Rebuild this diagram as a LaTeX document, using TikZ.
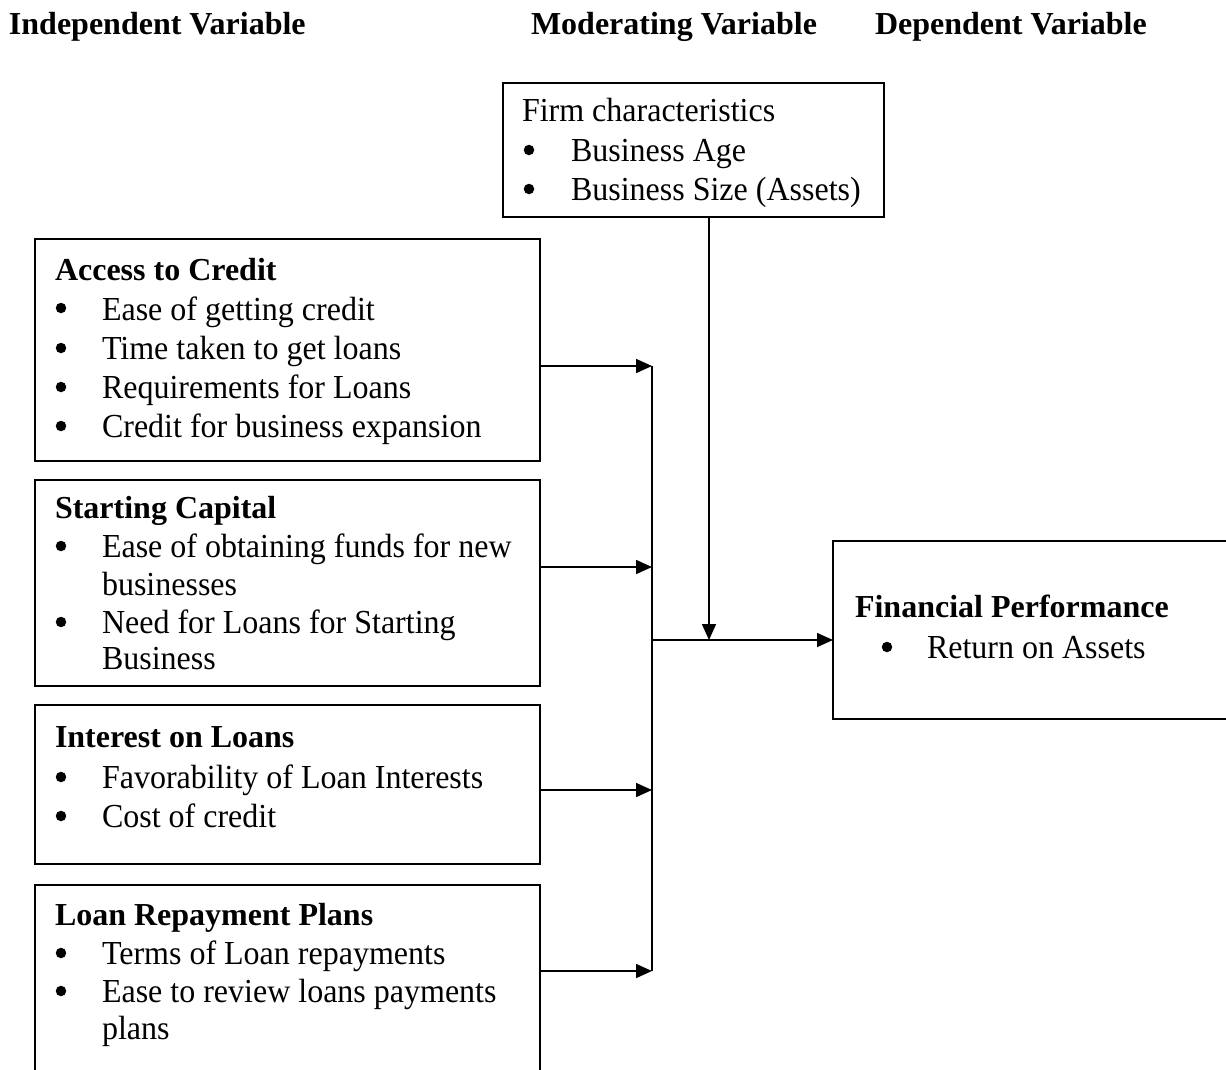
\documentclass[tikz,border=0pt]{standalone}
\usepackage{fontspec}
\setmainfont{Liberation Serif}
\usetikzlibrary{arrows.meta}
\newcommand\regtxt[1]{\scalebox{1}[1.05]{#1}}
\newcommand\boldtxt[1]{{\bfseries #1}}
\newcommand\headtxt[1]{{\bfseries #1}}
\begin{document}
\begin{tikzpicture}[x=1pt,y=-1pt,
  every node/.style={inner sep=0pt,outer sep=0pt,font=\fontsize{32}{39}\selectfont},
  boxnode/.style={draw,line width=1.6pt,rectangle,anchor=north west},
  ttl/.style={anchor=base west},
  itm/.style={anchor=base west},
  bul/.style={circle,fill=black,minimum size=10.5pt},
  conn/.style={line width=1.6pt},
  arr/.style={line width=1.6pt,-{Triangle[length=16pt,width=14pt]}}]
\clip (0,0) rectangle (1226,1069);
\useasboundingbox (0,0) rectangle (1226,1069);

% headers
\node[ttl] (h1) at (9,34) {\headtxt{Independent Variable}};
\node[ttl] (h2) at (531,34) {\headtxt{Moderating Variable}};
\node[ttl] (h3) at (875,34) {\headtxt{Dependent Variable}};

% firm box
\node[boxnode,minimum width=381pt,minimum height=134pt] (firm) at (503,83) {};
\node[itm] (f0) at (522,121) {\regtxt{Firm characteristics}};
\node[bul] (fb1) at (529,150) {};
\node[itm] (f1) at (571,161) {\regtxt{Business Age}};
\node[bul] (fb2) at (529,189) {};
\node[itm] (f2) at (571,200) {\regtxt{Business Size (Assets)}};

% access to credit
\node[boxnode,minimum width=505pt,minimum height=222pt] (acc) at (35,239) {};
\node[ttl] (a0) at (55,280) {\boldtxt{Access to Credit}};
\node[bul] (ab1) at (61,308) {};
\node[itm] (a1) at (102,320) {\regtxt{Ease of getting credit}};
\node[bul] (ab2) at (61,348) {};
\node[itm] (a2) at (102,359) {\regtxt{Time taken to get loans}};
\node[bul] (ab3) at (61,387) {};
\node[itm] (a3) at (102,398) {\regtxt{Requirements for Loans}};
\node[bul] (ab4) at (61,426) {};
\node[itm] (a4) at (102,437) {\regtxt{Credit for business expansion}};

% starting capital
\node[boxnode,minimum width=505pt,minimum height=206pt] (sc) at (35,480) {};
\node[ttl] (s0) at (55,518) {\boldtxt{Starting Capital}};
\node[bul] (sb1) at (61,546) {};
\node[itm] (s1) at (102,557) {\regtxt{Ease of obtaining funds for new}};
\node[itm] (s1b) at (102,595) {\regtxt{businesses}};
\node[bul] (sb2) at (61,622) {};
\node[itm] (s2) at (102,633) {\regtxt{Need for Loans for Starting}};
\node[itm] (s2b) at (102,669) {\regtxt{Business}};

% interest on loans
\node[boxnode,minimum width=505pt,minimum height=159pt] (il) at (35,705) {};
\node[ttl] (i0) at (55,747) {\boldtxt{Interest on Loans}};
\node[bul] (ib1) at (61,777) {};
\node[itm] (i1) at (102,788) {\regtxt{Favorability of Loan Interests}};
\node[bul] (ib2) at (61,816) {};
\node[itm] (i2) at (102,827) {\regtxt{Cost of credit}};

% loan repayment plans
\node[boxnode,minimum width=505pt,minimum height=200pt] (lr) at (35,885) {};
\node[ttl] (l0) at (55,925) {\boldtxt{Loan Repayment Plans}};
\node[bul] (lb1) at (61,953) {};
\node[itm] (l1) at (102,964) {\regtxt{Terms of Loan repayments}};
\node[bul] (lb2) at (61,991) {};
\node[itm] (l2) at (102,1002) {\regtxt{Ease to review loans payments}};
\node[itm] (l2b) at (102,1039) {\regtxt{plans}};

% financial performance
\node[boxnode,minimum width=420pt,minimum height=178pt] (fin) at (833,541) {};
\node[ttl] (p0) at (855,617) {\boldtxt{Financial Performance}};
\node[bul] (pb1) at (887,647) {};
\node[itm] (p1) at (927,658) {\regtxt{Return on Assets}};

% connector coordinates
\coordinate (j1) at (652,366);
\coordinate (j2) at (652,567);
\coordinate (j3) at (652,790);
\coordinate (j4) at (652,971);
\coordinate (hub) at (652,640);
\coordinate (mod) at (709,640);

\draw[arr] (acc.east |- j1) -- (j1);
\draw[arr] (sc.east |- j2) -- (j2);
\draw[arr] (il.east |- j3) -- (j3);
\draw[arr] (lr.east |- j4) -- (j4);
\draw[conn] (j1) -- (j4);
\draw[arr] (hub) -- (fin.west |- hub);
\draw[arr] (firm.south -| mod) -- (mod);
\end{tikzpicture}
\end{document}
